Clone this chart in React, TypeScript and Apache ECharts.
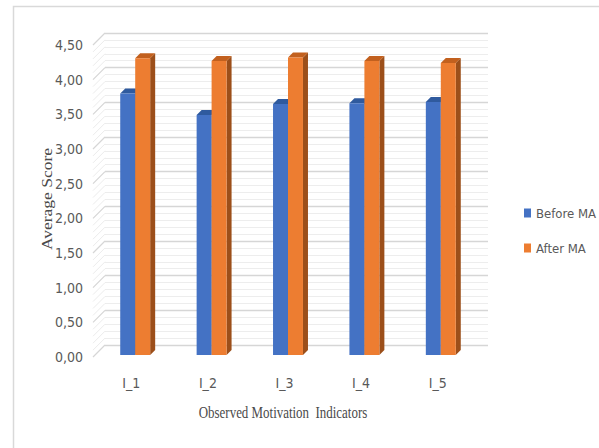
import React, { useEffect, useRef } from "react";
import * as echarts from "echarts";

// ---- data ----
const categories = ["I_1", "I_2", "I_3", "I_4", "I_5"];
const seriesNames = ["Before MA", "After MA"];
const beforeMA = [3.77, 3.46, 3.62, 3.63, 3.65];
const afterMA = [4.28, 4.24, 4.29, 4.24, 4.21];
const yTicks = [0, 0.5, 1, 1.5, 2, 2.5, 3, 3.5, 4, 4.5];
const yMin = 0;
const yMax = 4.5;
const yInterval = 0.5;
const xAxisTitle = "Observed Motivation  Indicators";
const yAxisTitle = "Average Score";

const labelFont = "'Liberation Sans Narrow', 'DejaVu Sans Condensed', 'Arial Narrow', sans-serif";
const serifFont = "'Liberation Serif', 'DejaVu Serif', serif";
const textGray = "#595959";

const palette = [
  { front: "#4472C4", top: "#2F5A9E", side: "#2B4F8C" },
  { front: "#ED7D31", top: "#C2601E", side: "#9C4F1A" },
];

function barSeries(name: string, values: number[], side: number, colors: any) {
  return {
    type: "custom",
    name,
    xAxisIndex: 2,
    yAxisIndex: 2,
    itemStyle: { color: colors.front },
    encode: { x: 0, y: 1 },
    data: values.map((v, i) => [i, v]),
    renderItem: (params: any, api: any) => {
      const i = api.value(0);
      const v = api.value(1);
      const top = api.coord([i, v]);
      const base = api.coord([i, 0]);
      const band = api.size([1, 0])[0];
      const w = band * 0.196;
      const x0 = side < 0 ? top[0] - w : top[0];
      const x1 = x0 + w;
      const dx = 5;
      const dy = -5;
      return {
        type: "group",
        children: [
          {
            type: "polygon",
            shape: { points: [[x1, top[1]], [x1 + dx, top[1] + dy], [x1 + dx, base[1] + dy], [x1, base[1]]] },
            style: { fill: colors.side },
          },
          {
            type: "polygon",
            shape: { points: [[x0, top[1]], [x0 + dx, top[1] + dy], [x1 + dx, top[1] + dy], [x1, top[1]]] },
            style: { fill: colors.top },
          },
          {
            type: "rect",
            shape: { x: x0, y: top[1], width: w, height: base[1] - top[1] },
            style: { fill: colors.front },
          },
        ],
      };
    },
  };
}

export default function App() {
  const ref = useRef<HTMLDivElement>(null);
  useEffect(() => {
    if (!ref.current) return;
    const chart = echarts.init(ref.current, null, { renderer: "svg" });
    const option: any = {
      animation: false,
      backgroundColor: "#ffffff",
      grid: [
        { left: 105, top: 33, width: 383, height: 312, outerBoundsMode: "none" },
        { left: 93, top: 45, width: 383, height: 312, outerBoundsMode: "none" },
        { left: 97, top: 43, width: 382, height: 312, outerBoundsMode: "none" },
      ],
      xAxis: [
        { type: "category", gridIndex: 0, data: categories, show: false },
        {
          type: "category",
          gridIndex: 1,
          data: categories,
          axisLine: { show: false },
          axisTick: { show: false },
          axisLabel: { margin: 19, fontFamily: labelFont, fontSize: 14, color: textGray },
        },
        { type: "category", gridIndex: 2, data: categories, show: false },
      ],
      yAxis: [
        {
          type: "value",
          gridIndex: 0,
          min: yMin,
          max: yMax,
          interval: yInterval,
          axisLine: { show: false },
          axisTick: { show: false },
          axisLabel: { show: false },
          splitLine: { show: true, lineStyle: { color: "#d6d6d6", width: 1.3 } },
          minorTick: { show: false, splitNumber: 5 },
          minorSplitLine: { show: true, lineStyle: { color: "#ededed", width: 1 } },
        },
        {
          type: "value",
          gridIndex: 1,
          min: yMin,
          max: yMax,
          interval: yInterval,
          axisLine: { show: false },
          axisTick: { show: false },
          splitLine: { show: false },
          axisLabel: {
            margin: 10,
            fontFamily: labelFont,
            fontSize: 14,
            color: textGray,
            formatter: (v: number) => v.toFixed(2).replace(".", ","),
          },
        },
        { type: "value", gridIndex: 2, min: yMin, max: yMax, interval: yInterval, show: false },
      ],
      legend: {
        orient: "vertical",
        left: 519,
        top: 200,
        data: seriesNames,
        icon: "rect",
        itemWidth: 7,
        itemHeight: 9,
        itemGap: 19,
        textStyle: { fontFamily: labelFont, fontSize: 13, color: textGray, lineHeight: 16 },
        selectedMode: false,
      },
      graphic: [
        {
          type: "rect",
          shape: { x: 13.5, y: 6.5, width: 700, height: 600 },
          style: { fill: "none", stroke: "#d9d9d9", lineWidth: 1.5 },
          silent: true,
        },
        {
          type: "text",
          x: 283,
          y: 412,
          scaleX: 0.74,
          style: {
            text: xAxisTitle,
            font: `17.5px ${serifFont}`,
            fill: "#4a4a4a",
            textAlign: "center",
            textVerticalAlign: "middle",
            align: "center",
            verticalAlign: "middle",
          },
        },
        {
          type: "text",
          x: 47,
          y: 199,
          rotation: Math.PI / 2,
          scaleY: 0.8,
          style: {
            text: yAxisTitle,
            font: `17.5px ${serifFont}`,
            fill: "#4a4a4a",
            textAlign: "center",
            textVerticalAlign: "middle",
            align: "center",
            verticalAlign: "middle",
          },
        },
      ],
      series: [
        {
          type: "custom",
          name: "wall",
          xAxisIndex: 1,
          yAxisIndex: 1,
          silent: true,
          data: [[0, 0]],
          renderItem: (params: any, api: any) => {
            const left = params.coordSys.x;
            const children: any[] = [];
            for (let k = 0; k < yTicks.length; k++) {
              const v = yTicks[k];
              const p = api.coord([0, v]);
              children.push({
                type: "line",
                shape: { x1: left, y1: p[1], x2: left + 12, y2: p[1] - 12 },
                style: { stroke: "#d6d6d6", lineWidth: 1.2 },
              });
              if (k < yTicks.length - 1) {
                for (let m = 1; m < 5; m++) {
                  const vv = v + ((yTicks[k + 1] - v) * m) / 5;
                  const q = api.coord([0, vv]);
                  children.push({
                    type: "line",
                    shape: { x1: left, y1: q[1], x2: left + 12, y2: q[1] - 12 },
                    style: { stroke: "#ececec", lineWidth: 1 },
                  });
                }
              }
            }
            return { type: "group", children };
          },
        },
        barSeries(seriesNames[0], beforeMA, -1, palette[0]),
        barSeries(seriesNames[1], afterMA, 1, palette[1]),
      ],
    };
    chart.setOption(option);
    return () => chart.dispose();
  }, []);
  return (
    <div
      ref={ref}
      style={{ position: "fixed", left: 0, top: 0, width: 599, height: 448, background: "#fff" }}
    />
  );
}
